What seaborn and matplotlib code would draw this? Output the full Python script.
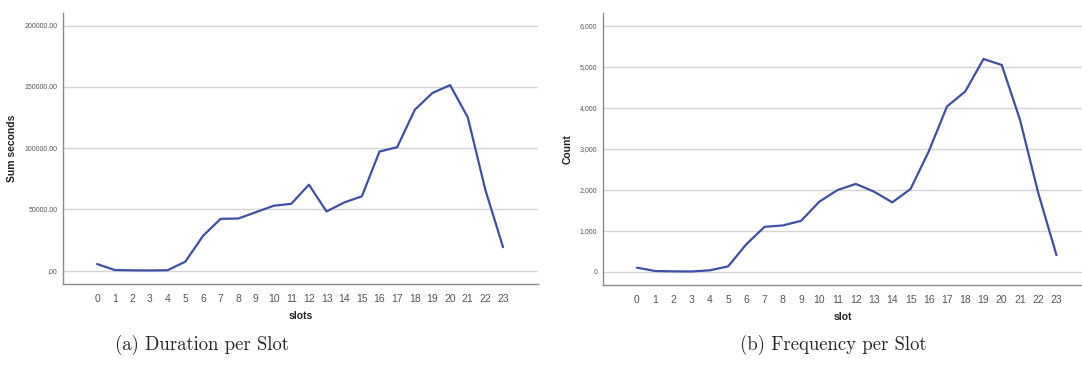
import numpy as np
import matplotlib
matplotlib.use('Agg')
import matplotlib.pyplot as plt
import pandas as pd
import seaborn as sns
from matplotlib.ticker import FuncFormatter

# Data
slots = list(range(24))
duration_sum = [5460, 550, 300, 200, 400, 7380, 28400, 42350, 42600, 47800, 53000, 54600,
                70200, 48400, 55700, 60700, 97300, 100800, 131400, 145100, 151500, 125300,
                65900, 19200]
frequency = [98, 16, 8, 5, 33, 130, 670, 1094, 1127, 1240, 1706, 1992,
             2139, 1951, 1690, 2016, 2934, 4029, 4394, 5185, 5040, 3705, 1920, 405]
duration_ticks = [0, 50000, 100000, 150000, 200000]
frequency_ticks = [0, 1000, 2000, 3000, 4000, 5000, 6000]
captions = ['(a) Duration per Slot', '(b) Frequency per Slot']

LINE = '#3d50a5'
GRID = '#d4d4d4'
SPINE = '#8c8c8c'
TICK = '#555555'

sns.set_style('white')
plt.rcParams['font.family'] = ['Liberation Sans', 'DejaVu Sans']

W, H = 1082, 374
fig = plt.figure(figsize=(W / 100, H / 100), dpi=100)


def px_axes(left, right, top, bottom):
    return fig.add_axes([left / W, 1 - bottom / H, (right - left) / W, (bottom - top) / H])


def style_axes(ax, yticks, ylim, xlim, ylabel, xlabel, fmt):
    ax.set_xlim(*xlim)
    ax.set_ylim(*ylim)
    ax.set_xticks(slots)
    ax.set_yticks(yticks)
    ax.yaxis.set_major_formatter(FuncFormatter(fmt))
    ax.grid(axis='y', color=GRID, linewidth=1.0, zorder=0)
    ax.set_axisbelow(True)
    for side in ['top', 'right']:
        ax.spines[side].set_visible(False)
    for side in ['left', 'bottom']:
        ax.spines[side].set_color(SPINE)
        ax.spines[side].set_linewidth(1.0)
    ax.tick_params(axis='x', length=0, pad=7, labelsize=7.5, labelcolor=TICK)
    ax.tick_params(axis='y', length=0, pad=4, labelsize=5, labelcolor=TICK)
    ax.set_xlabel(xlabel, fontsize=7.5, fontweight='bold', color='#222222', labelpad=5)
    ax.set_ylabel(ylabel, fontsize=7.5, fontweight='bold', color='#222222', labelpad=5)


df_dur = pd.DataFrame({'slots': slots, 'seconds': duration_sum})
df_freq = pd.DataFrame({'slot': slots, 'count': frequency})

ax1 = px_axes(63, 538, 13, 284.3)
sns.lineplot(data=df_dur, x='slots', y='seconds', ax=ax1, color=LINE, linewidth=1.6)
style_axes(ax1, duration_ticks, (-11100, 210400), (-1.93, 24.98), 'Sum seconds', 'slots',
           lambda v, p: ',00' if v == 0 else f'{v:.2f}')

ax2 = px_axes(603, 1082, 13.3, 285)
sns.lineplot(data=df_freq, x='slot', y='count', ax=ax2, color=LINE, linewidth=1.6)
style_axes(ax2, frequency_ticks, (-325, 6300), (-1.86, 24.4), 'Count', 'slot',
           lambda v, p: f'{int(v):,}')

fig.text(202 / W, 1 - 345 / H, captions[0], ha='center', va='center', fontsize=13.5, family='cmr10')
fig.text(833 / W, 1 - 345 / H, captions[1], ha='center', va='center', fontsize=13.5, family='cmr10')

fig.savefig('out.png', dpi=100)
